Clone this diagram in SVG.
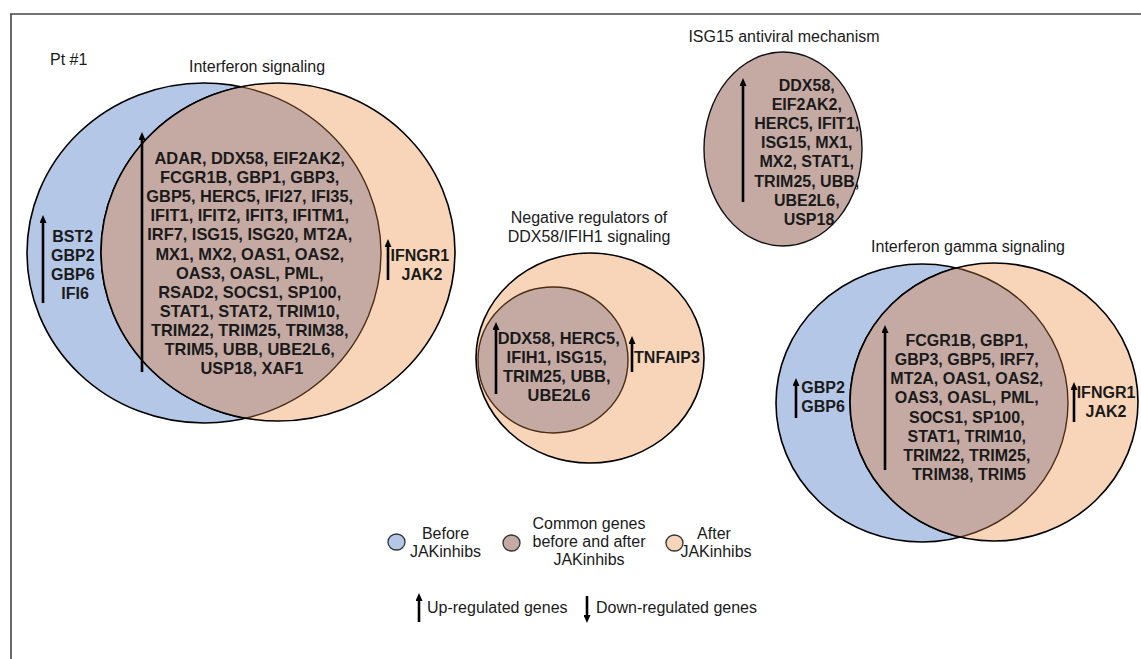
<svg xmlns="http://www.w3.org/2000/svg" width="1141" height="659" viewBox="0 0 1141 659">
<style>
.t{font-family:"Liberation Sans",Arial,sans-serif;font-size:16px;fill:#1a1a1a;text-anchor:middle}
.tl{font-family:"Liberation Sans",Arial,sans-serif;font-size:16px;fill:#1a1a1a}
.g{font-family:"Liberation Sans",Arial,sans-serif;font-size:16px;font-weight:bold;fill:#1a1a1a;text-anchor:middle}
.g2{font-family:"Liberation Sans",Arial,sans-serif;font-size:16.4px;font-weight:bold;fill:#1a1a1a;text-anchor:middle}
.blue{fill:#b4c7e7;stroke:#000;stroke-width:1.6}
.org{fill:#f8d5b8;stroke:#000;stroke-width:1.6}
.brn{fill:#c5aaa4;stroke:#4a2e17;stroke-width:1.4}
.ol{fill:none;stroke:#000;stroke-width:1.6}
.arr{stroke:#000;stroke-width:2.6;marker-end:url(#ah)}
.frame{stroke:#444;stroke-width:1.6}
</style>
<defs>
<marker id="ah" viewBox="0 0 8 7" refX="2" refY="3.5" markerWidth="8" markerHeight="7" markerUnits="userSpaceOnUse" orient="auto">
<path d="M0,0 L8,3.5 L0,7 z" fill="#000"/>
</marker>
<clipPath id="cLO"><ellipse cx="278" cy="252" rx="177" ry="169"/></clipPath>
<clipPath id="cLB"><ellipse cx="204" cy="253" rx="177" ry="170"/></clipPath>
<clipPath id="cRO"><ellipse cx="994" cy="402" rx="144" ry="139"/></clipPath>
<clipPath id="cRB"><ellipse cx="922" cy="403" rx="146" ry="139"/></clipPath>
</defs>
<rect width="1141" height="659" fill="#fff"/>
<g id="frame">
<line class="frame" x1="10" y1="14" x2="1141" y2="14"/>
<line class="frame" x1="11" y1="14" x2="11" y2="659"/>
</g>
<text id="pt" class="tl" x="50" y="65">Pt #1</text>

<g id="interferon-signaling">
<text class="t" x="257" y="72">Interferon signaling</text>
<ellipse class="blue" cx="204" cy="253" rx="177" ry="170"/>
<ellipse class="org" cx="278" cy="252" rx="177" ry="169"/>
<g clip-path="url(#cLO)"><ellipse class="brn" cx="204" cy="253" rx="177" ry="170"/></g>
<g clip-path="url(#cLB)"><ellipse class="ol" cx="278" cy="252" rx="177" ry="169"/></g>
<line class="arr" x1="142" y1="372" x2="142" y2="138"/>
<text class="g2" x="252">
<tspan x="252" y="164">ADAR, DDX58, EIF2AK2,</tspan>
<tspan x="252" y="183">FCGR1B, GBP1, GBP3,</tspan>
<tspan x="252" y="202">GBP5, HERC5, IFI27, IFI35,</tspan>
<tspan x="252" y="221.3">IFIT1, IFIT2, IFIT3, IFITM1,</tspan>
<tspan x="252" y="240.4">IRF7, ISG15, ISG20, MT2A,</tspan>
<tspan x="252" y="259.5">MX1, MX2, OAS1, OAS2,</tspan>
<tspan x="252" y="278.6">OAS3, OASL, PML,</tspan>
<tspan x="252" y="297.7">RSAD2, SOCS1, SP100,</tspan>
<tspan x="252" y="316.8">STAT1, STAT2, TRIM10,</tspan>
<tspan x="252" y="335.9">TRIM22, TRIM25, TRIM38,</tspan>
<tspan x="252" y="355">TRIM5, UBB, UBE2L6,</tspan>
<tspan x="252" y="374">USP18, XAF1</tspan>
</text>
<line class="arr" x1="43" y1="303" x2="43" y2="221"/>
<text class="g">
<tspan x="75" y="242">BST2</tspan>
<tspan x="75" y="261">GBP2</tspan>
<tspan x="75" y="280">GBP6</tspan>
<tspan x="75" y="299">IFI6</tspan>
</text>
<line class="arr" x1="388" y1="280" x2="388" y2="245"/>
<text class="g">
<tspan x="422" y="261">IFNGR1</tspan>
<tspan x="422" y="280">JAK2</tspan>
</text>
</g>

<g id="negative-regulators">
<text class="t"><tspan x="589" y="223">Negative regulators of</tspan><tspan x="589" y="241.5">DDX58/IFIH1 signaling</tspan></text>
<ellipse class="org" cx="590" cy="358" rx="114" ry="105"/>
<ellipse class="brn" cx="553" cy="360" rx="75" ry="73"/>
<line class="arr" x1="496" y1="394" x2="496" y2="328"/>
<text class="g2">
<tspan x="561" y="344">DDX58, HERC5,</tspan>
<tspan x="559" y="363">IFIH1, ISG15,</tspan>
<tspan x="559" y="382">TRIM25, UBB,</tspan>
<tspan x="559" y="401">UBE2L6</tspan>
</text>
<line class="arr" x1="632" y1="372" x2="632" y2="342"/>
<text class="g" x="667" y="363">TNFAIP3</text>
</g>

<g id="isg15-antiviral">
<text class="t" x="784" y="41.5">ISG15 antiviral mechanism</text>
<ellipse class="brn" style="stroke:#111" cx="783" cy="149" rx="79" ry="97"/>
<line class="arr" x1="743" y1="202" x2="743" y2="84"/>
<text class="g">
<tspan x="809" y="90.5">DDX58,</tspan>
<tspan x="809" y="109.7">EIF2AK2,</tspan>
<tspan x="809" y="128.9">HERC5, IFIT1,</tspan>
<tspan x="809" y="148.1">ISG15, MX1,</tspan>
<tspan x="809" y="167.3">MX2, STAT1,</tspan>
<tspan x="809" y="186.5">TRIM25, UBB,</tspan>
<tspan x="809" y="205.7">UBE2L6,</tspan>
<tspan x="809" y="225">USP18</tspan>
</text>
</g>

<g id="interferon-gamma-signaling">
<text class="t" x="968" y="251.5">Interferon gamma signaling</text>
<ellipse class="blue" cx="922" cy="403" rx="146" ry="139"/>
<ellipse class="org" cx="994" cy="402" rx="144" ry="139"/>
<g clip-path="url(#cRO)"><ellipse class="brn" cx="922" cy="403" rx="146" ry="139"/></g>
<g clip-path="url(#cRB)"><ellipse class="ol" cx="994" cy="402" rx="144" ry="139"/></g>
<line class="arr" x1="885" y1="470" x2="885" y2="331"/>
<text class="g">
<tspan x="969" y="346">FCGR1B, GBP1,</tspan>
<tspan x="969" y="365.1">GBP3, GBP5, IRF7,</tspan>
<tspan x="969" y="384.3">MT2A, OAS1, OAS2,</tspan>
<tspan x="969" y="403.4">OAS3, OASL, PML,</tspan>
<tspan x="969" y="422.6">SOCS1, SP100,</tspan>
<tspan x="969" y="441.7">STAT1, TRIM10,</tspan>
<tspan x="969" y="460.9">TRIM22, TRIM25,</tspan>
<tspan x="969" y="480">TRIM38, TRIM5</tspan>
</text>
<line class="arr" x1="796" y1="418" x2="796" y2="384"/>
<text class="g"><tspan x="823" y="393">GBP2</tspan><tspan x="823" y="412">GBP6</tspan></text>
<line class="arr" x1="1074" y1="422" x2="1074" y2="388"/>
<text class="g"><tspan x="1106" y="398">IFNGR1</tspan><tspan x="1106" y="417">JAK2</tspan></text>
</g>

<g id="legend">
<ellipse cx="396.5" cy="542" rx="8.5" ry="8" fill="#b4c7e7" stroke="#333" stroke-width="1.3"/>
<text class="t"><tspan x="445.5" y="539">Before</tspan><tspan x="445.5" y="557">JAKinhibs</tspan></text>
<ellipse cx="511.5" cy="543" rx="8.5" ry="8" fill="#c5aaa4" stroke="#333" stroke-width="1.3"/>
<text class="t"><tspan x="589" y="529">Common genes</tspan><tspan x="589" y="547">before and after</tspan><tspan x="589" y="565">JAKinhibs</tspan></text>
<ellipse cx="674.5" cy="543" rx="8.5" ry="8" fill="#f8d5b8" stroke="#333" stroke-width="1.3"/>
<text class="t"><tspan x="714" y="539">After</tspan><tspan x="716" y="557">JAKinhibs</tspan></text>
<line class="arr" x1="419" y1="622" x2="419" y2="599"/>
<text class="tl" x="427" y="613">Up-regulated genes</text>
<line class="arr" x1="587" y1="596" x2="587" y2="617"/>
<text class="tl" x="596" y="613">Down-regulated genes</text>
</g>
</svg>
